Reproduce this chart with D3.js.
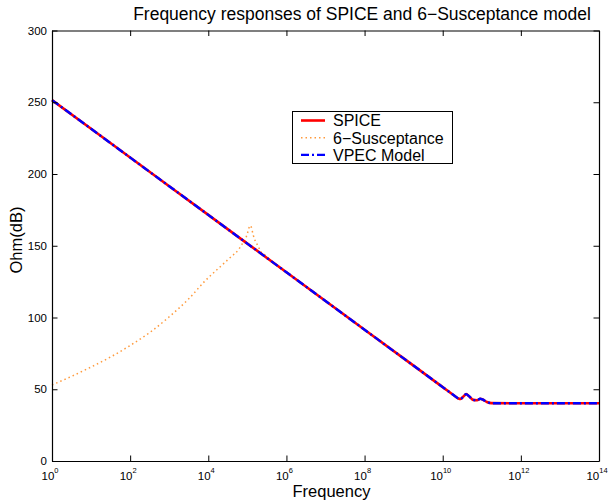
<!DOCTYPE html>
<html>
<head>
<meta charset="utf-8">
<script src="https://cdn.jsdelivr.net/npm/d3@7"></script>
<style>
  body { margin: 0; background: #fff; }
  text { font-family: "Liberation Sans", Arial, Helvetica, sans-serif; fill: #000; }
</style>
</head>
<body>
<script>
// Frequency responses chart

// data (x = log10 of frequency, y = Ohm in dB)
var spiceExp = [0, 1, 2, 3, 4, 5, 6, 7, 8, 9, 10, 10.3, 10.4, 10.46, 10.53, 10.6, 10.68, 10.78, 10.88, 10.96, 11.02, 11.13, 11.25, 12, 13, 14];
var spiceDb  = [251.5, 231.5, 211.5, 191.5, 171.5, 151.5, 131.5, 111.5, 91.5, 71.5, 51.5, 45.5, 43.6, 43.3, 45, 46.6, 45, 42.6, 42.3, 43.4, 42.9, 41.1, 40.3, 40.2, 40.2, 40.2];

var suscExp = [0, 0.5, 1, 1.5, 2, 2.5, 3, 3.5, 3.9, 4.35, 4.57, 4.78, 4.86, 4.95, 5.0, 5.07, 5.1, 5.15, 5.2, 5.27, 5.32, 5.45, 6];
var suscDb  = [53, 59, 65.5, 72.5, 80.5, 89.5, 100.5, 113, 125, 136.5, 142, 147.5, 151, 154.5, 158.5, 164, 163, 157.5, 153.5, 150, 147, 143.5, 131.5];

// VPEC model overlays the SPICE curve
var vpecExp = spiceExp;
var vpecDb  = spiceDb;

var xTickExp = [0, 2, 4, 6, 8, 10, 12, 14];
var yTicks = [0, 50, 100, 150, 200, 250, 300];

var legendNames = ["SPICE", "6\u2212Susceptance", "VPEC Model"];

var width = 610;
var height = 504;
var pLeft = 52, pRight = 599, pTop = 30.5, pBottom = 461;

var svg = d3.select("body").append("svg")
    .attr("width", width)
    .attr("height", height);

svg.append("rect")
    .attr("width", width)
    .attr("height", height)
    .attr("fill", "#fff");

var x = d3.scaleLog().domain([1, 1e14]).range([pLeft, pRight]);
var y = d3.scaleLinear().domain([0, 300]).range([pBottom, pTop]);

function pts(ex, v) {
    return ex.map(function(e, i) { return [Math.pow(10, e), v[i]]; });
}

var line = d3.line()
    .x(function(d) { return x(d[0]); })
    .y(function(d) { return y(d[1]); })
    .curve(d3.curveMonotoneX);

// curves
svg.append("path")
    .attr("d", line(pts(suscExp, suscDb)))
    .attr("fill", "none")
    .attr("stroke", "#ff9a3c")
    .attr("stroke-width", 1.5)
    .attr("stroke-dasharray", "1.5,3");

svg.append("path")
    .attr("d", line(pts(spiceExp, spiceDb)))
    .attr("fill", "none")
    .attr("stroke", "#ff0000")
    .attr("stroke-width", 2.6);

svg.append("path")
    .attr("d", line(pts(vpecExp, vpecDb)))
    .attr("fill", "none")
    .attr("stroke", "#0000ff")
    .attr("stroke-width", 2.4)
    .attr("stroke-dasharray", "8,3,2,3");

// axes: box with inner ticks on all four sides
var tk = 5.5;
var xTickVals = xTickExp.map(function(e) { return Math.pow(10, e); });
var g = svg.append("g");

g.append("g")
    .attr("transform", "translate(0," + pBottom + ")")
    .call(d3.axisBottom(x).tickValues(xTickVals)
        .tickSizeInner(-tk).tickSizeOuter(0).tickFormat(""));
g.append("g")
    .attr("transform", "translate(0," + pTop + ")")
    .call(d3.axisTop(x).tickValues(xTickVals)
        .tickSizeInner(-tk).tickSizeOuter(0).tickFormat(""));
g.append("g")
    .attr("transform", "translate(" + pLeft + ",0)")
    .call(d3.axisLeft(y).tickValues(yTicks).tickSizeInner(-tk).tickSizeOuter(0).tickFormat(""));
g.append("g")
    .attr("transform", "translate(" + pRight + ",0)")
    .call(d3.axisRight(y).tickValues(yTicks).tickSizeInner(-tk).tickSizeOuter(0).tickFormat(""));

g.selectAll(".domain").attr("stroke", "#000").attr("stroke-width", 1.2);
g.selectAll(".tick line").attr("stroke", "#000").attr("stroke-width", 1);

// y tick labels
svg.selectAll(".ylab")
    .data(yTicks)
    .enter().append("text")
    .attr("x", pLeft - 5)
    .attr("y", function(d) { return y(d) + 4; })
    .attr("text-anchor", "end")
    .attr("font-size", "11.5px")
    .text(function(d) { return d; });

// x tick labels 10^n
var xl = svg.selectAll(".xlab")
    .data(xTickExp)
    .enter().append("text")
    .attr("x", function(d) { return x(Math.pow(10, d)) - 2; })
    .attr("y", 479.5)
    .attr("text-anchor", "middle")
    .attr("font-size", "11.5px");
xl.append("tspan").text("10");
xl.append("tspan")
    .attr("dy", -7)
    .attr("font-size", "7.5px")
    .text(function(d) { return d; });

// titles
svg.append("text")
    .attr("x", 362)
    .attr("y", 20)
    .attr("text-anchor", "middle")
    .attr("font-size", "17.5px")
    .text("Frequency responses of SPICE and 6\u2212Susceptance model");

svg.append("text")
    .attr("x", (pLeft + pRight) / 2 + 6)
    .attr("y", 497)
    .attr("text-anchor", "middle")
    .attr("font-size", "16.5px")
    .text("Frequency");

svg.append("text")
    .attr("transform", "translate(22," + 240 + ") rotate(-90)")
    .attr("text-anchor", "middle")
    .attr("font-size", "16.5px")
    .text("Ohm(dB)");

// legend
var lg = svg.append("g");
lg.append("rect")
    .attr("x", 292.5)
    .attr("y", 111.5)
    .attr("width", 160)
    .attr("height", 52)
    .attr("fill", "#fff")
    .attr("stroke", "#000")
    .attr("stroke-width", 1);

var legStroke = [
    {c: "#ff0000", w: 2.6, dash: null},
    {c: "#ff9a3c", w: 1.5, dash: "1.5,3"},
    {c: "#0000ff", w: 2.4, dash: "8,3,2,3"}
];

legendNames.forEach(function(name, i) {
    var ly = 120.5 + i * 17.2;
    lg.append("line")
        .attr("x1", 301).attr("x2", 325)
        .attr("y1", ly).attr("y2", ly)
        .attr("stroke", legStroke[i].c)
        .attr("stroke-width", legStroke[i].w)
        .attr("stroke-dasharray", legStroke[i].dash);
    lg.append("text")
        .attr("x", 333)
        .attr("y", ly + 5.8)
        .attr("font-size", "16px")
        .text(name);
});
</script>
</body>
</html>
